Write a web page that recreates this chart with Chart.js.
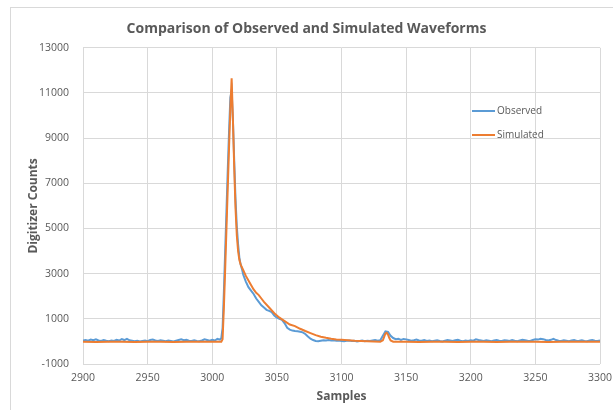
<!DOCTYPE html>
<html>
<head>
<meta charset="utf-8">
<title>Comparison of Observed and Simulated Waveforms</title>
<script src="https://cdn.jsdelivr.net/npm/chart.js@4/dist/chart.umd.min.js"></script>
<style>
  html, body { margin:0; padding:0; background:#fff; }
  #wrap { position:relative; width:613px; height:410px; overflow:hidden; }
  #frame { position:absolute; left:10px; top:7px; width:640px; height:440px; border:1px solid #d9d9d9; pointer-events:none; }
  canvas { position:absolute; left:0; top:0; }
</style>
</head>
<body>
<div id="wrap">
  <canvas id="waveChart" width="613" height="410"></canvas>
  <div id="frame"></div>
</div>
<script>
// Observed waveform (digitizer counts per sample)
const obsSamples = [
  2900,2902,2904,2906,2908,2910,2912,2914,2916,2918,
  2920,2922,2924,2926,2928,2930,2932,2934,2936,2938,
  2940,2942,2944,2946,2948,2950,2952,2954,2956,2958,
  2960,2962,2964,2966,2968,2970,2972,2974,2976,2978,
  2980,2982,2984,2986,2988,2990,2992,2994,2996,2998,
  3000,3002,3004,3006,3007,3008,3009,3010,3011,3012,
  3013,3014,3015,3016,3017,3018,3019,3020,3021,3022,
  3023,3024,3026,3028,3030,3032,3034,3036,3038,3040,
  3042,3044,3046,3048,3050,3052,3054,3056,3058,3060,
  3062,3064,3066,3068,3070,3072,3074,3076,3078,3080,
  3082,3084,3086,3088,3090,3092,3094,3096,3098,3100,
  3102,3104,3106,3108,3110,3112,3114,3116,3118,3120,
  3122,3124,3126,3128,3130,3132,3134,3136,3138,3140,
  3142,3144,3146,3148,3150,3152,3154,3156,3158,3160,
  3162,3164,3166,3168,3170,3172,3174,3176,3178,3180,
  3182,3184,3186,3188,3190,3192,3194,3196,3198,3200,
  3202,3204,3206,3208,3210,3212,3214,3216,3218,3220,
  3222,3224,3226,3228,3230,3232,3234,3236,3238,3240,
  3242,3244,3246,3248,3250,3252,3254,3256,3258,3260,
  3262,3264,3266,3268,3270,3272,3274,3276,3278,3280,
  3282,3284,3286,3288,3290,3292,3294,3296,3298,3300
];
const obsCounts = [
  40,60,30,80,50,90,40,20,60,30,
  10,40,20,70,40,100,60,110,50,30,
  10,30,0,20,40,10,60,80,40,20,
  50,30,10,40,20,0,30,60,90,50,
  70,30,20,50,20,10,40,90,60,30,
  70,40,110,80,150,600,2200,4000,5800,7600,
  9300,10800,11100,9800,8000,6300,5100,4300,3700,3400,
  3200,2950,2650,2400,2250,2100,1900,1750,1600,1500,
  1400,1350,1300,1150,1050,1000,950,800,600,520,
  480,460,450,430,400,330,220,120,60,20,
  10,30,50,40,60,40,50,30,40,20,
  10,30,40,20,30,0,20,40,10,30,
  20,40,60,30,50,250,440,420,250,150,
  100,120,70,110,90,60,30,50,80,40,
  30,60,20,40,10,30,50,20,0,30,
  60,40,20,50,70,30,10,40,20,50,
  30,90,60,40,20,50,30,10,40,60,
  30,20,50,40,20,60,30,10,40,70,
  50,30,20,60,90,80,120,100,60,40,
  70,110,60,30,20,50,30,10,40,60,
  20,30,50,20,10,40,60,30,20,40
];

// Simulated waveform
const simSamples = [
  2900,2910,2920,2930,2940,2950,2960,2970,2980,2990,3000,
  3007,3008,3009,3010,3011,3012,3013,3014,3015,3016,3017,3018,3019,3020,3021,3022,
  3024,3026,3028,3030,3032,3034,3036,3038,3040,
  3044,3048,3052,3056,3060,3064,3068,3072,3076,3080,3084,3088,3092,3096,3100,
  3105,3110,3115,3120,3125,3130,
  3132,3133,3134,3135,3136,3137,3138,3140,
  3150,3160,3170,3180,3190,3200,3210,3220,3230,3240,3250,3260,3270,3280,3290,3300
];
const simCounts = [
  -20,-25,-15,-20,-30,-20,-15,-25,-20,-15,-20,
  -10,100,1500,3200,5000,6800,8600,10300,11650,9800,7700,5900,4700,4000,3600,3400,
  3150,2900,2700,2500,2300,2150,2050,1900,1750,
  1500,1250,1050,900,750,680,560,460,370,280,210,160,120,90,70,
  50,30,20,10,0,-10,
  50,200,350,380,300,150,40,-10,
  -20,-25,-15,-20,-30,-20,-15,-25,-20,-20,-15,-25,-20,-20,-15,-20
];

const seriesNames = ['Observed', 'Simulated'];
const seriesColors = ['#5b9bd5', '#ed7d31'];

// axis ranges
const xMin = 2900, xMax = 3300, xStep = 50;
const yMin = -1000, yMax = 13000, yStep = 2000;

const textGray = '#595959';
const gridGray = '#d9d9d9';
const fontFam = '"Open Sans", "Noto Sans", sans-serif';

function toPoints(xs, ys){
  return xs.map((x, i) => ({ x: x, y: ys[i] }));
}

// legend drawn inside the plot, right side (like the Excel original)
const insideLegend = {
  id: 'insideLegend',
  afterDraw(chart){
    const ctx = chart.ctx;
    const rows = [111, 135];
    ctx.save();
    ctx.font = '10px ' + fontFam;
    ctx.textBaseline = 'middle';
    ctx.fillStyle = textGray;
    chart.data.datasets.forEach((ds, i) => {
      const y = rows[i];
      ctx.strokeStyle = ds.borderColor;
      ctx.lineWidth = 2;
      ctx.beginPath();
      ctx.moveTo(472, y);
      ctx.lineTo(495, y);
      ctx.stroke();
      ctx.fillText(ds.label, 497, y);
    });
    ctx.restore();
  }
};

document.addEventListener('DOMContentLoaded', () => {
  const el = document.getElementById('waveChart');
  new Chart(el, {
    type: 'line',
    data: {
      datasets: [
        {
          label: seriesNames[0],
          data: toPoints(obsSamples, obsCounts),
          borderColor: seriesColors[0],
          backgroundColor: seriesColors[0],
          borderWidth: 2,
          pointRadius: 0,
          tension: 0,
          order: 1
        },
        {
          label: seriesNames[1],
          data: toPoints(simSamples, simCounts),
          borderColor: seriesColors[1],
          backgroundColor: seriesColors[1],
          borderWidth: 2,
          pointRadius: 0,
          tension: 0,
          order: 0
        }
      ]
    },
    options: {
      responsive: false,
      animation: false,
      layout: { padding: { left: 0, right: 0, top: 0, bottom: 0 } },
      plugins: {
        legend: { display: false },
        tooltip: { enabled: false },
        title: {
          display: true,
          text: 'Comparison of Observed and Simulated Waveforms',
          color: textGray,
          font: { family: fontFam, size: 14, weight: 'bold' },
          padding: { top: 21, bottom: 10 }
        }
      },
      scales: {
        x: {
          type: 'linear',
          min: xMin, max: xMax,
          ticks: { stepSize: xStep, color: textGray, font: { family: fontFam, size: 10.5 }, padding: 8, maxRotation: 0,
                   callback: v => String(v) },
          grid: { color: gridGray, drawTicks: false },
          border: { display: false },
          title: { display: true, text: 'Samples', color: textGray, font: { family: fontFam, size: 12, weight: 'bold' }, padding: { top: 2, bottom: 6 } },
          afterFit: s => { s.height = 46; s.paddingRight = 13; }
        },
        y: {
          min: yMin, max: yMax,
          ticks: { stepSize: yStep, color: textGray, font: { family: fontFam, size: 10.5 }, padding: 14,
                   callback: v => String(v) },
          grid: { color: gridGray, drawTicks: false },
          border: { display: false },
          title: { display: true, text: 'Digitizer Counts', color: textGray, font: { family: fontFam, size: 12, weight: 'bold' }, padding: { top: 26, bottom: 0 } },
          afterFit: s => { s.width = 83; }
        }
      }
    },
    plugins: [insideLegend]
  });
});
</script>
</body>
</html>
